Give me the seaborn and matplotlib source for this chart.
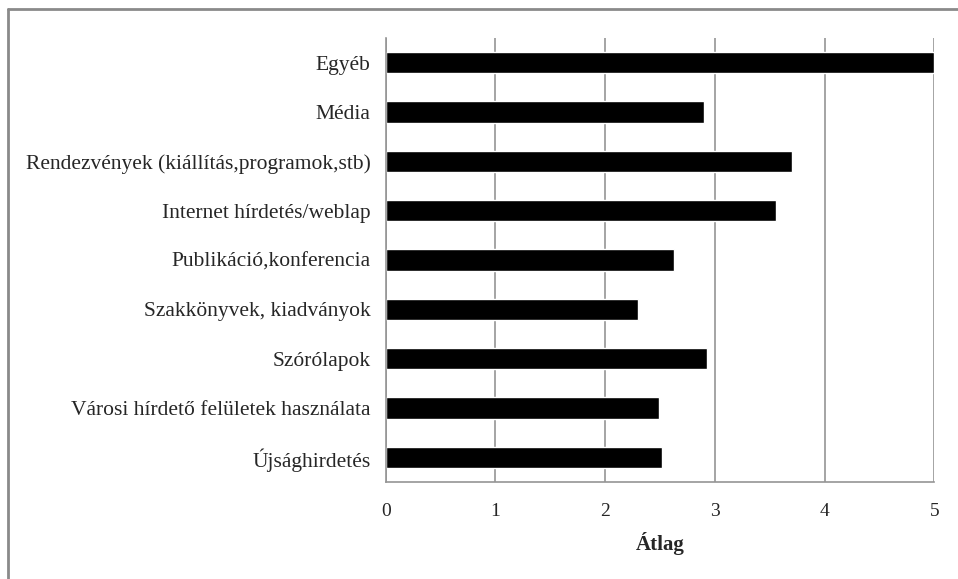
import matplotlib
matplotlib.use("Agg")
import matplotlib.pyplot as plt
import seaborn as sns
import pandas as pd
import numpy as np
from matplotlib.ticker import FixedLocator
from matplotlib.lines import Line2D

categories = [
    "Egyéb",
    "Média",
    "Rendezvények (kiállítás,programok,stb)",
    "Internet hírdetés/weblap",
    "Publikáció,konferencia",
    "Szakkönyvek, kiadványok",
    "Szórólapok",
    "Városi hírdető felületek használata",
    "Újsághirdetés",
]
values = [5.0, 2.90, 3.70, 3.56, 2.63, 2.30, 2.93, 2.49, 2.52]
x_ticks = [0, 1, 2, 3, 4, 5]
x_label = "Átlag"

sns.set_style("white")
plt.rcParams["font.family"] = ["Liberation Serif", "DejaVu Serif"]

df = pd.DataFrame({"cat": categories, "val": values})

fig = plt.figure(figsize=(9.58, 5.79), dpi=100)
ax = fig.add_axes([385.7 / 958, 1 - 482 / 579, (934.3 - 385.7) / 958, (482 - 38) / 579])

sns.barplot(data=df, x="val", y="cat", orient="h", color="black", width=0.43,
            saturation=1, ax=ax, order=categories)

ax.set_xlim(0, 5)
ax.set_ylim(len(categories) - 0.5, -0.5)
ax.set_xticks(x_ticks)
ax.set_xticklabels([str(t) for t in x_ticks], fontsize=14)
ax.xaxis.grid(True, color="#959595", linewidth=1.2)
ax.set_axisbelow(True)
ax.yaxis.grid(False)

for s in ["top", "right"]:
    ax.spines[s].set_visible(False)
for s in ["left", "bottom"]:
    ax.spines[s].set_color("#959595")
    ax.spines[s].set_linewidth(1.2)

ax.tick_params(axis="x", which="major", direction="out", length=6, color="#959595",
               width=1.2, pad=9, labelsize=14)
ax.tick_params(axis="y", which="major", length=0, pad=11, labelsize=15.5)
ax.yaxis.set_minor_locator(FixedLocator(np.arange(-0.5, len(categories), 1.0)))
ax.tick_params(axis="y", which="minor", direction="out", length=6, color="#959595", width=1.2)

ax.set_ylabel("")
ax.set_xlabel(x_label, fontsize=15, fontweight="bold", labelpad=9)

# outer chart border (top and left visible)
fig.add_artist(Line2D([8 / 958, 1.0], [1 - 9 / 579, 1 - 9 / 579], transform=fig.transFigure,
                      color="#8a8a8a", linewidth=2))
fig.add_artist(Line2D([8 / 958, 8 / 958], [0, 1 - 9 / 579], transform=fig.transFigure,
                      color="#8a8a8a", linewidth=2))

fig.savefig("out.png", dpi=100, facecolor="white")
